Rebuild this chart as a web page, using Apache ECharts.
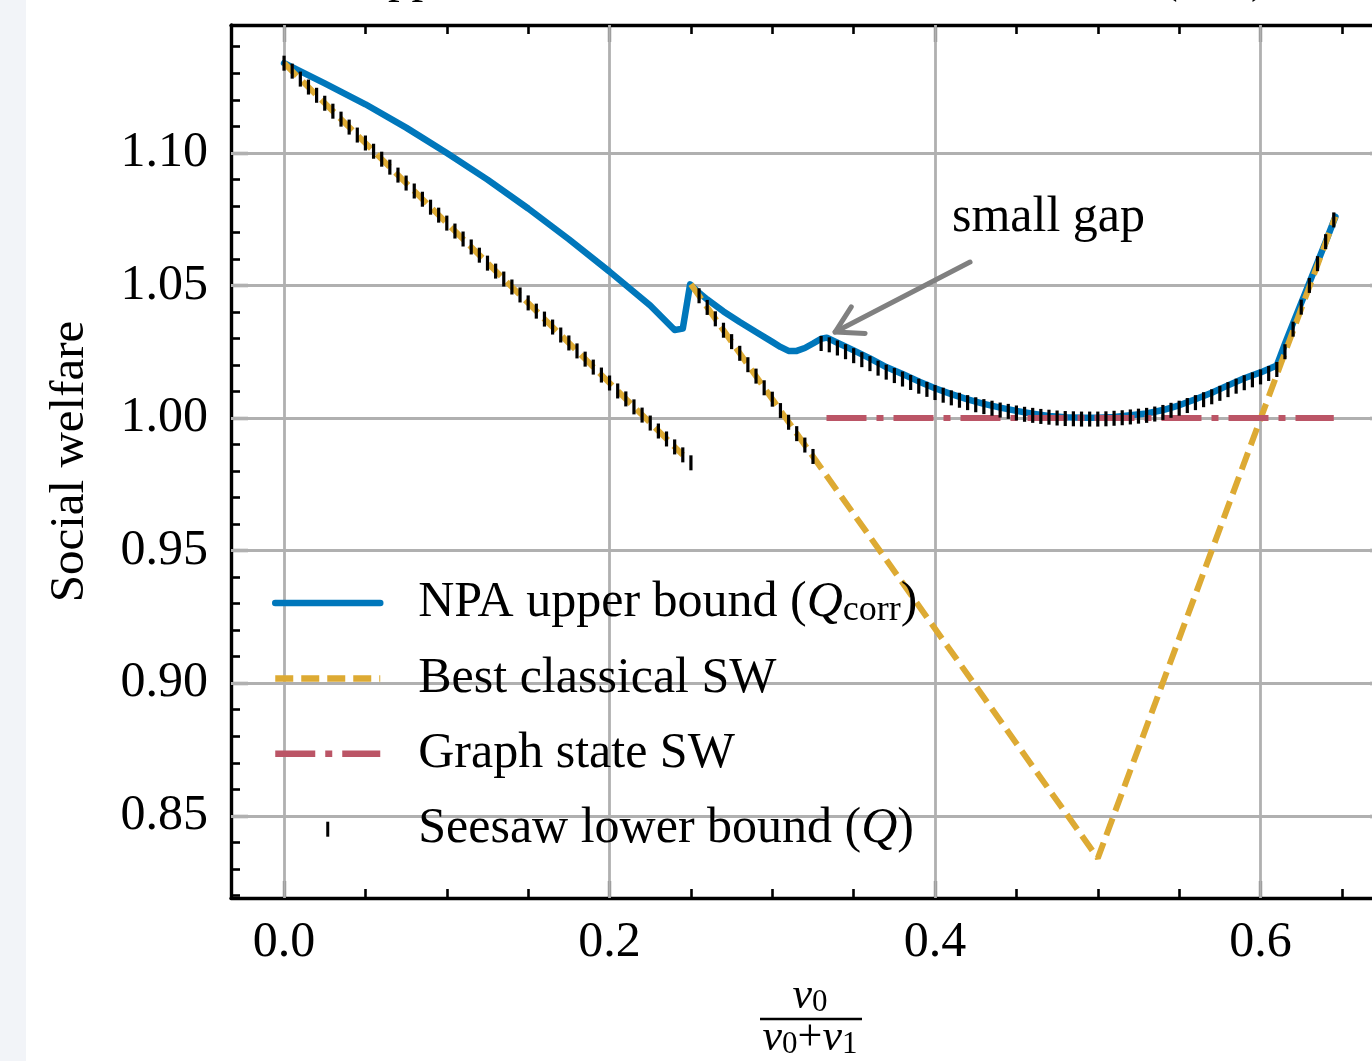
<!DOCTYPE html>
<html>
<head>
<meta charset="utf-8">
<script src="https://cdn.jsdelivr.net/npm/echarts@6/dist/echarts.min.js"></script>
<style>
  html, body { margin: 0; padding: 0; background: #fff; overflow: hidden; }
  #chart { position: absolute; left: 0; top: 0; width: 1400px; height: 1061px; }
  #strip { position: absolute; left: 0; top: 0; width: 26px; height: 1061px; background: #f2f4f8; z-index: 2; }
</style>
</head>
<body>
<div id="chart"></div>
<div id="strip"></div>
<script>
// axis ranges and ticks
var X_MIN = -0.0326, X_MAX = 0.6777, Y_MIN = 0.819, Y_MAX = 1.1482;
var xMajor = [0, 0.2, 0.4, 0.6];
var xMinor = [0.05, 0.1, 0.15, 0.25, 0.3, 0.35, 0.45, 0.5, 0.55, 0.65];
var yMajor = [0.85, 0.9, 0.95, 1.0, 1.05, 1.1];
var yMinor = [0.82, 0.83, 0.84, 0.86, 0.87, 0.88, 0.89, 0.91, 0.92, 0.93, 0.94,
              0.96, 0.97, 0.98, 0.99, 1.01, 1.02, 1.03, 1.04, 1.06, 1.07, 1.08,
              1.09, 1.11, 1.12, 1.13, 1.14];

// NPA upper bound
var npaX = [0, 0.025, 0.05, 0.075, 0.1, 0.125, 0.15, 0.175, 0.2, 0.225, 0.24, 0.245,
            0.2495, 0.255, 0.26, 0.27, 0.28, 0.29, 0.3, 0.305, 0.31, 0.315, 0.32, 0.325,
            0.33, 0.3335, 0.34, 0.35, 0.36, 0.37, 0.38, 0.39, 0.4, 0.41, 0.42, 0.43,
            0.44, 0.45, 0.46, 0.47, 0.48, 0.49, 0.5, 0.51, 0.52, 0.53, 0.54, 0.55,
            0.56, 0.57, 0.58, 0.59, 0.6, 0.61, 0.615, 0.62, 0.63, 0.64, 0.646];
var npaY = [1.1338, 1.1262, 1.1183, 1.1095, 1.0999, 1.0899, 1.0790, 1.0674, 1.0552, 1.0424, 1.0332, 1.0337,
            1.0504, 1.0472, 1.0447, 1.0402, 1.0362, 1.0324, 1.0287, 1.0268, 1.0253, 1.0253, 1.0264, 1.0281,
            1.0299, 1.0303, 1.0284, 1.0255, 1.0225, 1.0192, 1.0166, 1.0138, 1.0112, 1.0090, 1.0070, 1.0053,
            1.0039, 1.0027, 1.0016, 1.0008, 1.0003, 1.0001, 1.0001, 1.0004, 1.0010, 1.0017, 1.0030, 1.0048,
            1.0071, 1.0095, 1.0123, 1.0150, 1.0172, 1.0198, 1.0280, 1.0358, 1.0510, 1.0664, 1.0759];

// best classical SW (null = break)
var classX = [0, 0.245, 0.2475, 0.25, 0.5, 0.646];
var classY = [1.1338, 0.9861, null, 1.0504, 0.834, 1.076];

// graph state SW
var graphX = [0.3333, 0.645];
var graphY = [1.0, 1.0];

// seesaw lower bound
var seesawX = [0, 0.005, 0.01, 0.015, 0.02, 0.025, 0.03, 0.035, 0.04, 0.045,
  0.05, 0.055, 0.06, 0.065, 0.07, 0.075, 0.08, 0.085, 0.09, 0.095,
  0.1, 0.105, 0.11, 0.115, 0.12, 0.125, 0.13, 0.135, 0.14, 0.145,
  0.15, 0.155, 0.16, 0.165, 0.17, 0.175, 0.18, 0.185, 0.19, 0.195,
  0.2, 0.205, 0.21, 0.215, 0.22, 0.225, 0.23, 0.235, 0.24, 0.245,
  0.25, 0.255, 0.26, 0.265, 0.27, 0.275, 0.28, 0.285, 0.29, 0.295,
  0.3, 0.305, 0.31, 0.315, 0.32, 0.325, 0.33, 0.335, 0.34, 0.345,
  0.35, 0.355, 0.36, 0.365, 0.37, 0.375, 0.38, 0.385, 0.39, 0.395,
  0.4, 0.405, 0.41, 0.415, 0.42, 0.425, 0.43, 0.435, 0.44, 0.445,
  0.45, 0.455, 0.46, 0.465, 0.47, 0.475, 0.48, 0.485, 0.49, 0.495,
  0.5, 0.505, 0.51, 0.515, 0.52, 0.525, 0.53, 0.535, 0.54, 0.545,
  0.55, 0.555, 0.56, 0.565, 0.57, 0.575, 0.58, 0.585, 0.59, 0.595,
  0.6, 0.605, 0.61, 0.615, 0.62, 0.625, 0.63, 0.635, 0.64, 0.645];
var seesawY = [1.1338, 1.1308, 1.1278, 1.1248, 1.1217, 1.1187, 1.1157, 1.1127, 1.1097, 1.1067,
  1.1037, 1.1006, 1.0976, 1.0946, 1.0916, 1.0886, 1.0856, 1.0825, 1.0795, 1.0765,
  1.0735, 1.0705, 1.0675, 1.0645, 1.0614, 1.0584, 1.0554, 1.0524, 1.0494, 1.0464,
  1.0434, 1.0403, 1.0373, 1.0343, 1.0313, 1.0283, 1.0253, 1.0222, 1.0192, 1.0162,
  1.0132, 1.0102, 1.0072, 1.0042, 1.0011, 0.9981, 0.9951, 0.9921, 0.9891, 0.9861,
  0.9831, 1.0461, 1.0417, 1.0374, 1.0331, 1.0288, 1.0244, 1.0201, 1.0158, 1.0114,
  1.0071, 1.0028, 0.9984, 0.9941, 0.9898, 0.9855, 1.0281, 1.0276, 1.0264, 1.0250,
  1.0235, 1.0220, 1.0205, 1.0188, 1.0173, 1.0160, 1.0147, 1.0134, 1.0120, 1.0108,
  1.0096, 1.0086, 1.0076, 1.0067, 1.0058, 1.0050, 1.0043, 1.0037, 1.0030, 1.0025,
  1.0019, 1.0014, 1.0010, 1.0006, 1.0003, 1.0000, 0.9998, 0.9997, 0.9996, 0.9996,
  0.9996, 0.9997, 0.9999, 1.0001, 1.0004, 1.0007, 1.0010, 1.0015, 1.0021, 1.0029,
  1.0037, 1.0047, 1.0058, 1.0069, 1.0080, 1.0093, 1.0107, 1.0120, 1.0133, 1.0144,
  1.0155, 1.0168, 1.0183, 1.0250, 1.0335, 1.0418, 1.0500, 1.0582, 1.0665, 1.0747];

var names = ['NPA upper bound (Q_corr)', 'Best classical SW', 'Graph state SW', 'Seesaw lower bound (Q)'];
var BLUE = '#0077bb', YELLOW = '#ddaa33', RED = '#bb5566';
var SERIF = "'Liberation Serif', 'DejaVu Serif', serif";

function pairs(xs, ys) {
  return xs.map(function (x, i) { return [x, ys[i]]; });
}

function xAx(pos, values, len, main) {
  return {
    type: 'value', position: pos, min: X_MIN, max: X_MAX,
    axisLine: { show: main, onZero: false, lineStyle: { color: '#000', width: 3.4 } },
    axisTick: { show: true, inside: true, length: len, customValues: values,
                lineStyle: { color: '#000', width: main ? 3.2 : 2.6 } },
    axisLabel: { show: main && pos === 'bottom', customValues: values, margin: 20,
                 fontFamily: SERIF, fontSize: 50, color: '#000',
                 formatter: function (v) { return v.toFixed(1); } },
    splitLine: { show: false }
  };
}
function yAx(pos, values, len, main) {
  return {
    type: 'value', position: pos, min: Y_MIN, max: Y_MAX,
    axisLine: { show: main, onZero: false, lineStyle: { color: '#000', width: 3.4 } },
    axisTick: { show: true, inside: true, length: len, customValues: values,
                lineStyle: { color: '#000', width: main ? 3.2 : 2.6 } },
    axisLabel: { show: main && pos === 'left', customValues: values, margin: 23,
                 fontFamily: SERIF, fontSize: 50, color: '#000',
                 formatter: function (v) { return v.toFixed(2); } },
    splitLine: { show: false }
  };
}

var yMain = yAx('left', yMajor, 17, true);
yMain.name = 'Social welfare';
yMain.nameLocation = 'middle';
yMain.nameGap = 136;
yMain.nameTextStyle = { fontFamily: SERIF, fontSize: 49, color: '#000' };

var chart = echarts.init(document.getElementById('chart'));
var option = {
  animation: false,
  backgroundColor: '#fff',
  grid: { left: 231, top: 25, width: 1156, height: 873 },
  xAxis: [xAx('bottom', xMajor, 17, true), xAx('bottom', xMinor, 9, false),
          xAx('top', xMajor, 17, true), xAx('top', xMinor, 9, false)],
  yAxis: [yMain, yAx('left', yMinor, 9, false),
          yAx('right', yMajor, 17, true), yAx('right', yMinor, 9, false)],
  legend: {
    orient: 'vertical', left: 272, top: 577, padding: 0,
    itemWidth: 105, itemHeight: 15, itemGap: 23.4,
    selectedMode: false,
    lineStyle: { width: 6.5 },
    textStyle: {
      fontFamily: SERIF, fontSize: 50, color: '#000', lineHeight: 52, padding: [0, 0, 0, 33],
      rich: {
        it: { fontFamily: SERIF, fontSize: 50, fontStyle: 'italic', color: '#000', lineHeight: 52 },
        sub: { fontFamily: SERIF, fontSize: 36, color: '#000', lineHeight: 22, verticalAlign: 'bottom' }
      }
    },
    formatter: function (n) {
      if (n === names[0]) return 'NPA upper bound ({it|Q}{sub|corr})';
      if (n === names[3]) return 'Seesaw lower bound ({it|Q})';
      return n;
    },
    data: [
      { name: names[0], itemStyle: { opacity: 0 } },
      { name: names[1], itemStyle: { opacity: 0 } },
      { name: names[2], itemStyle: { opacity: 0 } },
      { name: names[3], icon: 'path://M0,0L3,0L3,15L0,15Z', itemStyle: { opacity: 1 } }
    ]
  },
  series: [
    {
      name: 'grid', type: 'line', data: [], silent: true, z: 1,
      markLine: {
        silent: true, symbol: ['none', 'none'], label: { show: false }, z: 1,
        lineStyle: { color: '#b0b0b0', width: 2.8, type: 'solid' },
        emphasis: { disabled: true },
        data: xMajor.map(function (v) { return { xAxis: v }; })
              .concat(yMajor.map(function (v) { return { yAxis: v }; }))
      }
    },
    { name: names[0], type: 'line', data: pairs(npaX, npaY), symbol: 'none', z: 3,
      lineStyle: { color: BLUE, width: 6.5, cap: 'round', join: 'round' }, itemStyle: { color: BLUE } },
    { name: names[1], type: 'line', data: pairs(classX, classY), symbol: 'none', z: 3,
      connectNulls: false,
      lineStyle: { color: YELLOW, width: 6, type: [18, 8] }, itemStyle: { color: YELLOW } },
    { name: names[2], type: 'line', data: pairs(graphX, graphY), symbol: 'none', z: 3,
      lineStyle: { color: RED, width: 6, type: [40, 10, 7, 10] }, itemStyle: { color: RED } },
    { name: names[3], type: 'scatter', data: pairs(seesawX, seesawY), z: 4,
      symbol: 'rect', symbolSize: [3.2, 15], itemStyle: { color: '#000', opacity: 1 } }
  ]
};
chart.setOption(option);

// annotation and figure texts
var tip = chart.convertToPixel({ xAxisIndex: 0, yAxisIndex: 0 }, [0.3386, 1.0324]);
var tail = chart.convertToPixel({ xAxisIndex: 0, yAxisIndex: 0 }, [0.4215, 1.0588]);
var txt = chart.convertToPixel({ xAxisIndex: 0, yAxisIndex: 0 }, [0.4104, 1.0694]);
var ang = Math.atan2(tail[1] - tip[1], tail[0] - tip[0]);
var L = 30, A = Math.PI / 6;
var b1 = [tip[0] + L * Math.cos(ang + A), tip[1] + L * Math.sin(ang + A)];
var b2 = [tip[0] + L * Math.cos(ang - A), tip[1] + L * Math.sin(ang - A)];
var arrowStyle = { stroke: '#808080', lineWidth: 5, lineCap: 'round', lineJoin: 'round' };

var fracRich = {
  i: { fontFamily: SERIF, fontSize: 44, fontStyle: 'italic', color: '#000', lineHeight: 44 },
  s: { fontFamily: SERIF, fontSize: 31, color: '#000', lineHeight: 18, verticalAlign: 'bottom' },
  n: { fontFamily: SERIF, fontSize: 44, color: '#000', lineHeight: 44 }
};

chart.setOption({
  graphic: [
    { type: 'text', silent: true, style: { text: 'Upper and lower bounds on social welfare (n=2)',
      x: 354, y: -20, fill: '#000', font: '47px ' + SERIF, align: 'left', verticalAlign: 'middle' } },
    { type: 'polyline', silent: true, shape: { points: [tail, tip] }, style: arrowStyle, z: 10 },
    { type: 'polyline', silent: true, shape: { points: [b1, tip, b2] }, style: arrowStyle, z: 10 },
    { type: 'text', silent: true, z: 10, style: { text: 'small gap', x: txt[0], y: txt[1] - 16.5,
      fill: '#000', font: '50px ' + SERIF, align: 'left', verticalAlign: 'middle' } },
    { type: 'text', silent: true, style: { text: '{i|v}{s|0}', rich: fracRich,
      x: 810, y: 996, align: 'center', verticalAlign: 'middle' } },
    { type: 'line', silent: true, shape: { x1: 760, y1: 1019, x2: 862, y2: 1019 },
      style: { stroke: '#000', lineWidth: 2.4 } },
    { type: 'text', silent: true, style: { text: '{i|v}{s|0}{n|+}{i|v}{s|1}', rich: fracRich,
      x: 810, y: 1038, align: 'center', verticalAlign: 'middle' } }
  ]
});
</script>
</body>
</html>
